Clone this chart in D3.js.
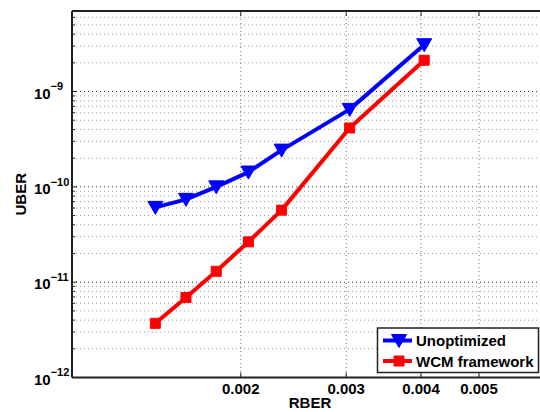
<!DOCTYPE html>
<meta charset="utf-8">
<html>
<head>
  <script src="https://d3js.org/d3.v7.min.js"></script>
  <style>
    body { margin: 0; background: white; }
    text { font-family: "Liberation Sans", Arial, sans-serif; font-weight: bold; }
  </style>
</head>
<body>
<div id="chart"></div>
<script>
  // data
  var rber        = [0.00144, 0.00162, 0.00182, 0.00206, 0.00234, 0.00304, 0.00405];
  var unoptimized = [6.1e-11, 7.4e-11, 1.0e-10, 1.43e-10, 2.43e-10, 6.5e-10, 3.1e-9];
  var wcm         = [3.7e-12, 6.9e-12, 1.3e-11, 2.65e-11, 5.7e-11, 4.15e-10, 2.13e-9];
  var xTicks = [0.002, 0.003, 0.004, 0.005];
  var yTicks = [-12, -11, -10, -9];
  var seriesNames = ["Unoptimized", "WCM framework"];

  var W = 540, H = 412;
  var pLeft = 72, pRight = 548, pTop = 11, pBottom = 377.5;

  var svg = d3.select("#chart").append("svg")
      .attr("width", W).attr("height", H);

  // x scale: log, domain chosen so ticks sit where they are in the picture
  var x = d3.scaleLog().domain([0.001045, 0.00652]).range([pLeft, pRight]);
  var y = d3.scaleLog().domain([1e-12, 7e-9]).range([pBottom, pTop]);

  // minor + major y grid
  var yMinor = [];
  for (var e = -12; e <= -9; e++) {
    for (var m = 2; m <= 9; m++) {
      var v = m * Math.pow(10, e);
      if (v <= 7e-9) yMinor.push(v);
    }
  }
  svg.append("g").selectAll("line").data(yMinor).enter().append("line")
    .attr("x1", pLeft).attr("x2", pRight)
    .attr("y1", function(d){ return y(d); }).attr("y2", function(d){ return y(d); })
    .attr("stroke", "#9a9a9a").attr("stroke-width", 1).attr("stroke-dasharray", "1,3");
  svg.append("g").selectAll("line").data(yTicks).enter().append("line")
    .attr("x1", pLeft).attr("x2", pRight)
    .attr("y1", function(d){ return y(Math.pow(10, d)); }).attr("y2", function(d){ return y(Math.pow(10, d)); })
    .attr("stroke", "#333").attr("stroke-width", 1).attr("stroke-dasharray", "1,3");
  svg.append("g").selectAll("line").data(xTicks).enter().append("line")
    .attr("x1", function(d){ return x(d); }).attr("x2", function(d){ return x(d); })
    .attr("y1", pTop).attr("y2", pBottom)
    .attr("stroke", "#777").attr("stroke-width", 1).attr("stroke-dasharray", "1,3");

  // axes frame
  svg.append("line").attr("x1", pLeft).attr("x2", pRight).attr("y1", pTop).attr("y2", pTop)
    .attr("stroke", "#222").attr("stroke-width", 2);
  svg.append("line").attr("x1", pLeft).attr("x2", pRight).attr("y1", pBottom).attr("y2", pBottom)
    .attr("stroke", "#222").attr("stroke-width", 2);
  svg.append("line").attr("x1", pLeft).attr("x2", pLeft).attr("y1", pTop).attr("y2", pBottom)
    .attr("stroke", "#222").attr("stroke-width", 2);

  // tick marks (inward)
  xTicks.forEach(function(d) {
    svg.append("line").attr("x1", x(d)).attr("x2", x(d)).attr("y1", pBottom).attr("y2", pBottom - 5)
      .attr("stroke", "#222").attr("stroke-width", 1);
    svg.append("line").attr("x1", x(d)).attr("x2", x(d)).attr("y1", pTop).attr("y2", pTop + 5)
      .attr("stroke", "#222").attr("stroke-width", 1);
  });
  yTicks.forEach(function(d) {
    svg.append("line").attr("x1", pLeft).attr("x2", pLeft + 5)
      .attr("y1", y(Math.pow(10, d))).attr("y2", y(Math.pow(10, d)))
      .attr("stroke", "#222").attr("stroke-width", 1);
  });
  yMinor.forEach(function(d) {
    svg.append("line").attr("x1", pLeft).attr("x2", pLeft + 3)
      .attr("y1", y(d)).attr("y2", y(d))
      .attr("stroke", "#222").attr("stroke-width", 1);
  });

  // tick labels
  svg.append("g").selectAll("text").data(xTicks).enter().append("text")
    .attr("x", function(d){ return x(d); }).attr("y", 394)
    .attr("text-anchor", "middle").attr("font-size", 15)
    .text(function(d){ return d3.format(".3f")(d); });

  var yl = svg.append("g").selectAll("text").data(yTicks).enter().append("text")
    .attr("x", 34).attr("y", function(d){ return y(Math.pow(10, d)) + 7.3; })
    .attr("font-size", 15);
  yl.append("tspan").text("10");
  yl.append("tspan").attr("dy", -8.5).attr("font-size", 11)
    .text(function(d){ return "\u2212" + Math.abs(d); });

  // axis titles
  svg.append("text").attr("x", 310).attr("y", 408).attr("text-anchor", "middle")
    .attr("font-size", 15).text("RBER");
  svg.append("text").attr("transform", "translate(26," + ((pTop + pBottom) / 2) + ")rotate(-90)")
    .attr("text-anchor", "middle").attr("font-size", 15).text("UBER");

  // series
  var line = d3.line()
    .x(function(d){ return x(d[0]); })
    .y(function(d){ return y(d[1]); });
  var triPath = "M-7.5,-6L7.5,-6L0,7Z";
  var sqPath = "M-5,-5L5,-5L5,5L-5,5Z";

  var series = [
    { name: seriesNames[0], vals: unoptimized, color: "#0000ff", marker: triPath },
    { name: seriesNames[1], vals: wcm, color: "#ff0000", marker: sqPath }
  ];

  series.forEach(function(s) {
    var pts = rber.map(function(r, i){ return [r, s.vals[i]]; });
    svg.append("path").datum(pts).attr("d", line)
      .attr("fill", "none").attr("stroke", s.color).attr("stroke-width", 4)
      .attr("stroke-linejoin", "round");
    svg.append("g").selectAll("path").data(pts).enter().append("path")
      .attr("transform", function(d){ return "translate(" + x(d[0]) + "," + y(d[1]) + ")"; })
      .attr("d", s.marker).attr("fill", s.color).attr("stroke", s.color).attr("stroke-width", 1);
  });

  // legend
  var lg = svg.append("g");
  lg.append("rect").attr("x", 377.5).attr("y", 328).attr("width", 161).attr("height", 44.5)
    .attr("fill", "white").attr("stroke", "#222").attr("stroke-width", 1.5);
  series.forEach(function(s, i) {
    var ly = 340.5 + i * 20.5;
    lg.append("line").attr("x1", 383).attr("x2", 412).attr("y1", ly).attr("y2", ly)
      .attr("stroke", s.color).attr("stroke-width", 4);
    lg.append("path").attr("transform", "translate(399," + ly + ")").attr("d", s.marker)
      .attr("fill", s.color).attr("stroke", s.color).attr("stroke-width", 1);
    lg.append("text").attr("x", 416).attr("y", ly + 5.5).attr("font-size", 15).text(s.name);
  });
</script>
</body>
</html>
